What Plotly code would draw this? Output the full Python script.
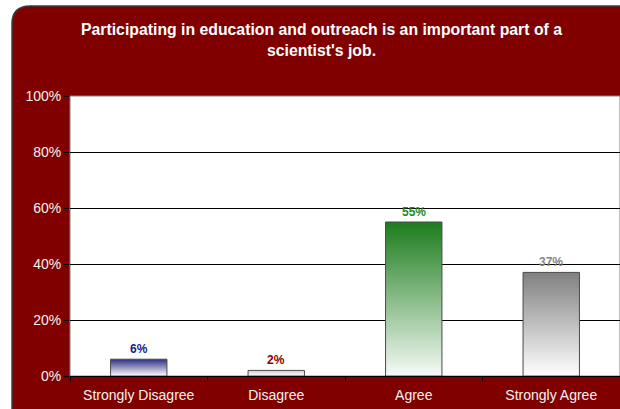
import plotly.graph_objects as go

categories = ["Strongly Disagree", "Disagree", "Agree", "Strongly Agree"]
values = [6, 2, 55, 37]
top_colors = ["#2e2e84", "#d6c9c9", "#1c7c1c", "#808080"]
bottom_colors = ["#ffffff", "#ffffff", "#f6faf6", "#ffffff"]
label_colors = ["#1a1a8a", "#8b0000", "#1e8a1e", "#858585"]
y_ticks = [0, 20, 40, 60, 80, 100]
y_tick_labels = ["0%", "20%", "40%", "60%", "80%", "100%"]
title_text = "Participating in education and outreach is an important part of a<br>scientist's job."

W, H = 620, 409
ML, MR, MT, MB = 70, 0, 96, 33
PW, PH = W - ML - MR, H - MT - MB
half_w = 0.205
FONT = "Arial, Liberation Sans, sans-serif"

def px_x(x):
    return (x - ML) / PW

def px_y(y):
    return 1 - (y - MT) / PH

fig = go.Figure()

for i, (cat, v) in enumerate(zip(categories, values)):
    xs = [i - half_w, i + half_w, i + half_w, i - half_w, i - half_w]
    ys = [0, 0, v, v, 0]
    fig.add_trace(go.Scatter(
        x=xs, y=ys, mode="lines", fill="toself",
        fillgradient=dict(type="vertical",
                          colorscale=[[0, bottom_colors[i]], [1, top_colors[i]]]),
        line=dict(color="#4a4a4a", width=1),
        hoverinfo="skip", showlegend=False,
    ))

for i, v in enumerate(values):
    fig.add_annotation(x=i, y=v, text=f"<b>{v}%</b>", showarrow=False,
                       xanchor="center", yanchor="bottom", yshift=1,
                       font=dict(family=FONT, size=12, color=label_colors[i]))

# background frame (rounded corner) and white plot area
x0, y0, r = px_x(12), px_y(6), 18
x1, y1 = px_x(660), px_y(440)
rx, ry = r / PW, r / PH
path = (f"M {x0},{y1} L {x0},{y0 - ry} Q {x0},{y0} {x0 + rx},{y0} "
        f"L {x1},{y0} L {x1},{y1} Z")
fig.add_shape(type="path", path=path, xref="paper", yref="paper",
              fillcolor="#800000", line=dict(color="#3c3c3c", width=1.5),
              layer="below")
fig.add_shape(type="rect", xref="x domain", yref="y domain", x0=0, x1=1, y0=0, y1=1,
              fillcolor="white", line=dict(color="#808080", width=1), layer="below")

fig.add_annotation(text=f"<b>{title_text}</b>", xref="paper", yref="paper",
                   x=px_x(321), y=px_y(40), xanchor="center", yanchor="middle",
                   showarrow=False,
                   font=dict(family=FONT, size=15.8, color="white"))

fig.update_layout(
    width=W, height=H,
    margin=dict(l=ML, r=MR, t=MT, b=MB, pad=0),
    paper_bgcolor="white", plot_bgcolor="rgba(0,0,0,0)",
    font=dict(family=FONT, size=14, color="#f2f2f2"),
    xaxis=dict(range=[-0.5, 3.5], tickvals=list(range(len(categories))),
               ticktext=categories, ticks="", showgrid=False, zeroline=False,
               showline=True, linecolor="black", linewidth=1,
               tickfont=dict(size=14, color="#f2f2f2"), ticklabelstandoff=6,
               minor=dict(tickvals=[-0.5, 0.5, 1.5, 2.5, 3.5], ticks="outside",
                          ticklen=4, tickcolor="black", showgrid=False),
               fixedrange=True),
    yaxis=dict(range=[0, 100], tickvals=y_ticks, ticktext=y_tick_labels,
               ticks="outside", ticklen=5, tickcolor="black",
               showgrid=True, gridcolor="black", gridwidth=1, zeroline=False,
               showline=False, tickfont=dict(size=14, color="#f2f2f2"),
               fixedrange=True),
)

fig.write_html("out.html")
